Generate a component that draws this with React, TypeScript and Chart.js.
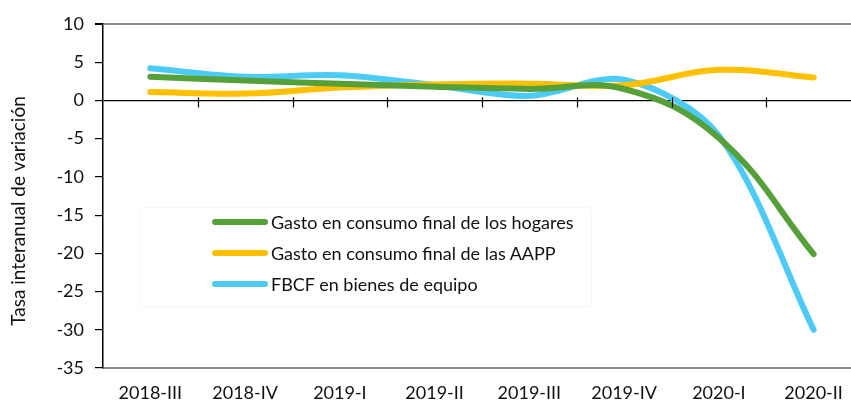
import React, { useEffect, useRef } from "react";
import { Chart, registerables } from "chart.js";

Chart.register(...registerables);

const categories = ["2018-III", "2018-IV", "2019-I", "2019-II", "2019-III", "2019-IV", "2020-I", "2020-II"];
const hogares = [3.1, 2.6, 2.2, 1.8, 1.5, 1.5, -4.9, -20.1];
const aapp = [1.1, 0.9, 1.7, 2.1, 2.2, 2.0, 4.0, 3.0];
const fbcf = [4.2, 3.1, 3.3, 2.0, 0.6, 2.7, -4.6, -30.0];
const seriesNames = [
  "Gasto en consumo final de los hogares",
  "Gasto en consumo final de las AAPP",
  "FBCF en bienes de equipo",
];
const seriesColors = ["#56A03A", "#FFC000", "#4BCBF5"];
const seriesTension = [0.4, 0.4, 0.32];
const yTitle = "Tasa interanual de variación";

const FONT = "Lato, 'Noto Sans', sans-serif";

const extras = {
  id: "extras",
  afterDraw(chart: any) {
    const { ctx, scales } = chart;
    const x = scales.x;
    const y = scales.y;
    const y0 = y.getPixelForValue(0);
    const n = categories.length;
    const half = (x.getPixelForValue(1) - x.getPixelForValue(0)) / 2;
    ctx.save();
    ctx.strokeStyle = "#000";
    ctx.lineWidth = 1.2;
    for (let i = 1; i <= n; i++) {
      const px = Math.round(x.getPixelForValue(i - 1) + half) + 0.5;
      ctx.beginPath();
      ctx.moveTo(px, y0 - 3);
      ctx.lineTo(px, y0 + 7);
      ctx.stroke();
    }
    // y-axis title
    const cy = (y.getPixelForValue(-35) + y.getPixelForValue(10)) / 2 + 15;
    ctx.translate(19, cy);
    ctx.rotate(-Math.PI / 2);
    ctx.fillStyle = "#111";
    ctx.font = "19px " + FONT;
    ctx.textAlign = "center";
    ctx.textBaseline = "middle";
    ctx.fillText(yTitle, 0, 0);
    ctx.restore();
  },
};

export default function App() {
  const ref = useRef<HTMLCanvasElement>(null);
  useEffect(() => {
    if (!ref.current) return;
    const chart = new Chart(ref.current, {
      type: "line",
      data: {
        labels: categories,
        datasets: [hogares, aapp, fbcf].map((d, i) => ({
          label: seriesNames[i],
          data: d,
          borderColor: seriesColors[i],
          backgroundColor: seriesColors[i],
          borderWidth: 6,
          tension: seriesTension[i],
          pointRadius: 0,
          borderCapStyle: "round",
          fill: false,
        })),
      },
      options: {
        responsive: false,
        animation: false,
        layout: { padding: { top: 24, left: 0, right: 0, bottom: 0 } },
        plugins: { legend: { display: false }, tooltip: { enabled: false } },
        scales: {
          x: {
            offset: true,
            grid: { display: false, drawTicks: false },
            border: { display: true, color: "#8a8a8a", width: 2 },
            ticks: { color: "#111", font: { family: FONT, size: 18 }, padding: 14, maxRotation: 0 },
            afterFit: (s: any) => {
              s.height = 36;
            },
          },
          y: {
            min: -35,
            max: 10,
            ticks: { stepSize: 5, color: "#111", font: { family: FONT, size: 18 }, padding: 11 },
            grid: {
              color: (c: any) =>
                c.tick && c.tick.value === 10 ? "#8a8a8a" : c.tick && c.tick.value === 0 ? "#000" : "rgba(0,0,0,0)",
              lineWidth: (c: any) => (c.tick && c.tick.value === 10 ? 2 : 1.2),
              tickColor: "#000",
              tickLength: 8,
            },
            border: { display: true, color: "#000", width: 1.5 },
            afterFit: (s: any) => {
              s.width = 103;
            },
          },
        },
      },
      plugins: [extras],
    });
    return () => chart.destroy();
  }, []);

  return (
    <div style={{ position: "fixed", left: 0, top: 0, width: 851, height: 404, overflow: "hidden", background: "#fff" }}>
      <canvas ref={ref} width={861} height={404} style={{ width: 861, height: 404, display: "block" }} />
      <div
        style={{
          position: "absolute",
          left: 140,
          top: 207,
          width: 450,
          height: 98,
          border: "1px solid #f6f6f6",
          borderRadius: 4,
          boxShadow: "0 0 3px rgba(0,0,0,0.03)",
          background: "rgba(255,255,255,0.6)",
        }}
      />
      {seriesNames.map((name, i) => (
        <div
          key={name}
          style={{
            position: "absolute",
            left: 212,
            top: 222 + i * 31 - 12,
            height: 24,
            display: "flex",
            alignItems: "center",
            fontFamily: FONT,
            fontSize: 18,
            color: "#111",
            whiteSpace: "nowrap",
          }}
        >
          <span style={{ display: "inline-block", width: 56, height: 6, borderRadius: 3, background: seriesColors[i], marginRight: 3 }} />
          <span>{name}</span>
        </div>
      ))}
    </div>
  );
}
